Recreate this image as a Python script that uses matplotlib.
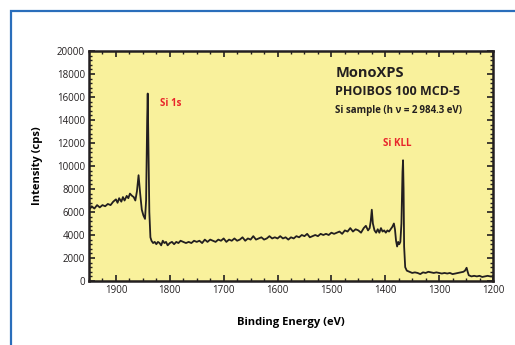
import numpy as np
import matplotlib.pyplot as plt
from matplotlib.ticker import MultipleLocator
from matplotlib.patches import Rectangle

# ---- Spectrum ----
energy = [1950, 1945, 1940, 1935, 1930, 1925, 1920, 1915, 1910, 1905,
          1900, 1897, 1894, 1890, 1887, 1884, 1880, 1877, 1874, 1870,
          1867, 1864, 1861, 1858, 1855, 1852, 1849, 1846, 1844, 1842,
          1841, 1840, 1838, 1836, 1834, 1831, 1828, 1825, 1822, 1819,
          1816, 1813, 1810, 1807, 1804, 1800, 1796, 1792, 1788, 1784,
          1780, 1775, 1770, 1765, 1760, 1755, 1750, 1745, 1740, 1735,
          1730, 1725, 1720, 1715, 1710, 1705, 1700, 1695, 1690, 1685,
          1680, 1675, 1670, 1665, 1660, 1655, 1650, 1645, 1640, 1635,
          1630, 1625, 1620, 1615, 1610, 1605, 1600, 1595, 1590, 1585,
          1580, 1575, 1570, 1565, 1560, 1555, 1550, 1545, 1540, 1535,
          1530, 1525, 1520, 1515, 1510, 1505, 1500, 1495, 1490, 1485,
          1480, 1475, 1470, 1465, 1460, 1455, 1450, 1445, 1440, 1436,
          1432, 1429, 1427, 1425, 1423, 1420, 1417, 1414, 1411, 1408,
          1405, 1402, 1399, 1396, 1393, 1390, 1387, 1384, 1382, 1380,
          1378, 1376, 1374, 1372, 1370, 1368, 1367, 1366, 1365, 1363,
          1360, 1355, 1350, 1345, 1340, 1335, 1330, 1325, 1320, 1315,
          1310, 1305, 1300, 1295, 1290, 1285, 1280, 1275, 1270, 1265,
          1260, 1255, 1252, 1249, 1247, 1245, 1240, 1235, 1230, 1225,
          1220, 1215, 1210, 1205, 1200]
intensity = [6200, 6500, 6300, 6600, 6400, 6600, 6500, 6700, 6600, 6900,
             7100, 6800, 7200, 6900, 7300, 7000, 7400, 7200, 7600, 7400,
             7300, 7000, 7800, 9200, 7600, 6200, 5700, 5400, 7000, 14000,
             16300, 13000, 6000, 3800, 3500, 3300, 3400, 3200, 3400, 3300,
             3100, 3500, 3300, 3400, 3100, 3300, 3400, 3200, 3400, 3300,
             3500, 3400, 3300, 3400, 3300, 3500, 3400, 3500, 3300, 3600,
             3400, 3600, 3500, 3400, 3600, 3500, 3700, 3400, 3600, 3500,
             3700, 3500, 3600, 3800, 3500, 3700, 3600, 3900, 3600, 3700,
             3800, 3600, 3700, 3900, 3700, 3800, 3700, 3900, 3700, 3800,
             3600, 3800, 3700, 3900, 3800, 4000, 3900, 4100, 3800, 3900,
             4000, 3900, 4100, 4000, 4100, 4000, 4200, 4100, 4200, 4300,
             4100, 4400, 4300, 4600, 4300, 4500, 4400, 4200, 4600, 4800,
             4400, 4600, 5200, 6200, 5000, 4400, 4200, 4500, 4200, 4600,
             4300, 4400, 4200, 4400, 4300, 4500, 4700, 5000, 4500, 3500,
             3000, 3400, 3200, 3400, 5000, 9500, 10500, 8000, 3000, 1200,
             900, 800, 700, 750, 700, 600, 750, 700, 800, 750,
             700, 750, 700, 650, 700, 650, 700, 600, 650, 700,
             750, 800, 900, 1150, 800, 500, 400, 450, 400, 450,
             350, 400, 450, 400, 400]

peak_labels = ["Si 1s", "Si KLL"]
title_lines = ["MonoXPS", "PHOIBOS 100 MCD-5", "Si sample (h \u03bd = 2\u2009984.3 eV)"]

plt.rcParams['font.family'] = ['Open Sans', 'DejaVu Sans']

fig = plt.figure(figsize=(5.15, 3.45), dpi=100)

# blue frame round the figure (left and top edges visible)
fig.patches.append(Rectangle((11 / 515, -0.1), 1.2, (345 - 11) / 345 + 0.1,
                             transform=fig.transFigure, fill=False,
                             edgecolor='#2a6ebb', linewidth=1.6))

ax = fig.add_axes([89 / 515, 1 - 281 / 345, 404 / 515, 230 / 345])
ax.set_facecolor('#f9f19c')
ax.plot(energy, intensity, color='#231f20', linewidth=1.3)

ax.set_xlim(1950, 1200)
ax.set_ylim(0, 20000)
ax.xaxis.set_major_locator(MultipleLocator(100))
ax.xaxis.set_minor_locator(MultipleLocator(25))
ax.yaxis.set_major_locator(MultipleLocator(2000))
ax.yaxis.set_minor_locator(MultipleLocator(400))
ax.tick_params(which='both', direction='in', top=True, right=True,
               labelsize=7, colors='#231f20', pad=3)
ax.tick_params(which='major', length=4, width=1.2)
ax.tick_params(which='minor', length=2, width=1)
for s in ax.spines.values():
    s.set_linewidth(1.8)
    s.set_color('#231f20')

ax.set_xlabel("Binding Energy (eV)", fontsize=8, fontweight='bold', labelpad=15)
ax.set_ylabel("Intensity (cps)", fontsize=8, fontweight='bold', labelpad=10)

ax.text(1818, 15400, peak_labels[0], color='#e8262b', fontsize=7,
        fontweight='bold', ha='left', va='center')
ax.text(1378, 12000, peak_labels[1], color='#e8262b', fontsize=7,
        fontweight='bold', ha='center', va='center')

ax.text(0.61, 0.904, title_lines[0], transform=ax.transAxes, fontsize=10.5,
        fontweight='bold', color='#231f20', va='center')
ax.text(0.61, 0.822, title_lines[1], transform=ax.transAxes, fontsize=9,
        fontweight='bold', color='#231f20', va='center')
ax.text(0.61, 0.743, title_lines[2], transform=ax.transAxes, fontsize=7,
        fontweight='bold', color='#231f20', va='center')

fig.savefig("out.png", dpi=100)
